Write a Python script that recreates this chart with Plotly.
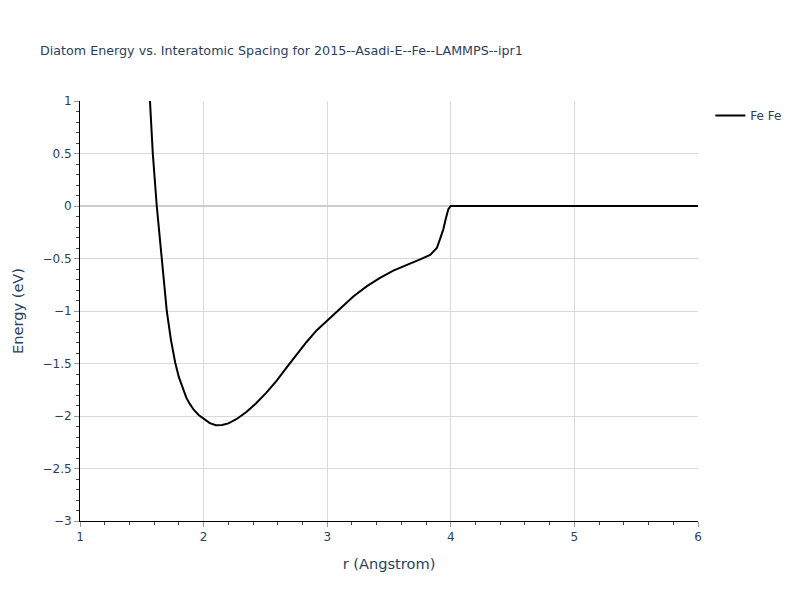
import plotly.graph_objects as go

r_vals = [1.55, 1.566, 1.589, 1.621, 1.659, 1.702, 1.735, 1.770, 1.80, 1.832, 1.86, 1.886,
          1.92, 1.96, 2.0, 2.05, 2.10, 2.15, 2.20, 2.265, 2.346, 2.427, 2.508, 2.590,
          2.671, 2.752, 2.833, 2.914, 3.0, 3.103, 3.211, 3.319, 3.427, 3.535, 3.643,
          3.752, 3.833, 3.887, 3.914, 3.94, 3.96, 3.98, 4.0, 5.0, 6.0]
energy_vals = [1.35, 1.0, 0.5, 0.0, -0.5, -1.0, -1.27, -1.49, -1.63, -1.745, -1.825, -1.88,
               -1.94, -1.99, -2.025, -2.068, -2.087, -2.085, -2.07, -2.031, -1.962, -1.876,
               -1.777, -1.665, -1.54, -1.415, -1.295, -1.185, -1.09, -0.975, -0.862, -0.765,
               -0.685, -0.615, -0.558, -0.508, -0.466, -0.40, -0.31, -0.22, -0.12, -0.03,
               0.0, 0.0, 0.0]
series_name = "Fe Fe"
title_text = "Diatom Energy vs. Interatomic Spacing for 2015--Asadi-E--Fe--LAMMPS--ipr1"

FONT = "Verdana, DejaVu Sans, sans-serif"

fig = go.Figure()
fig.add_trace(go.Scatter(x=r_vals, y=energy_vals, mode="lines", name=series_name,
                         line=dict(color="black", width=2)))

axis_common = dict(showline=True, linecolor="black", linewidth=1, ticks="outside",
                   tickcolor="#999", ticklen=5, showgrid=True, gridcolor="#d9d9d9",
                   gridwidth=1, automargin=False)
fig.update_layout(
    width=800, height=600,
    font=dict(family=FONT, size=12, color="#2a3f5f"),
    margin=dict(l=72, r=110, t=93, b=87),
    title=dict(text=title_text, x=0.04, font=dict(size=12.7)),
    plot_bgcolor="white", paper_bgcolor="white",
    showlegend=True,
    xaxis=dict(title=dict(text="r (Angstrom)", font=dict(size=14.6)), range=[1, 6], dtick=1,
               zeroline=False,
               minor=dict(ticks="outside", dtick=0.2, ticklen=3, tickcolor="#444", showgrid=False),
               **axis_common),
    yaxis=dict(title=dict(text="Energy (eV)", font=dict(size=14.6)), range=[-3, 1], dtick=0.5,
               zeroline=True, zerolinecolor="#cccccc", zerolinewidth=2,
               minor=dict(ticks="outside", dtick=0.1, ticklen=3, tickcolor="#444", showgrid=False),
               **axis_common),
)
fig.write_html("out.html")
